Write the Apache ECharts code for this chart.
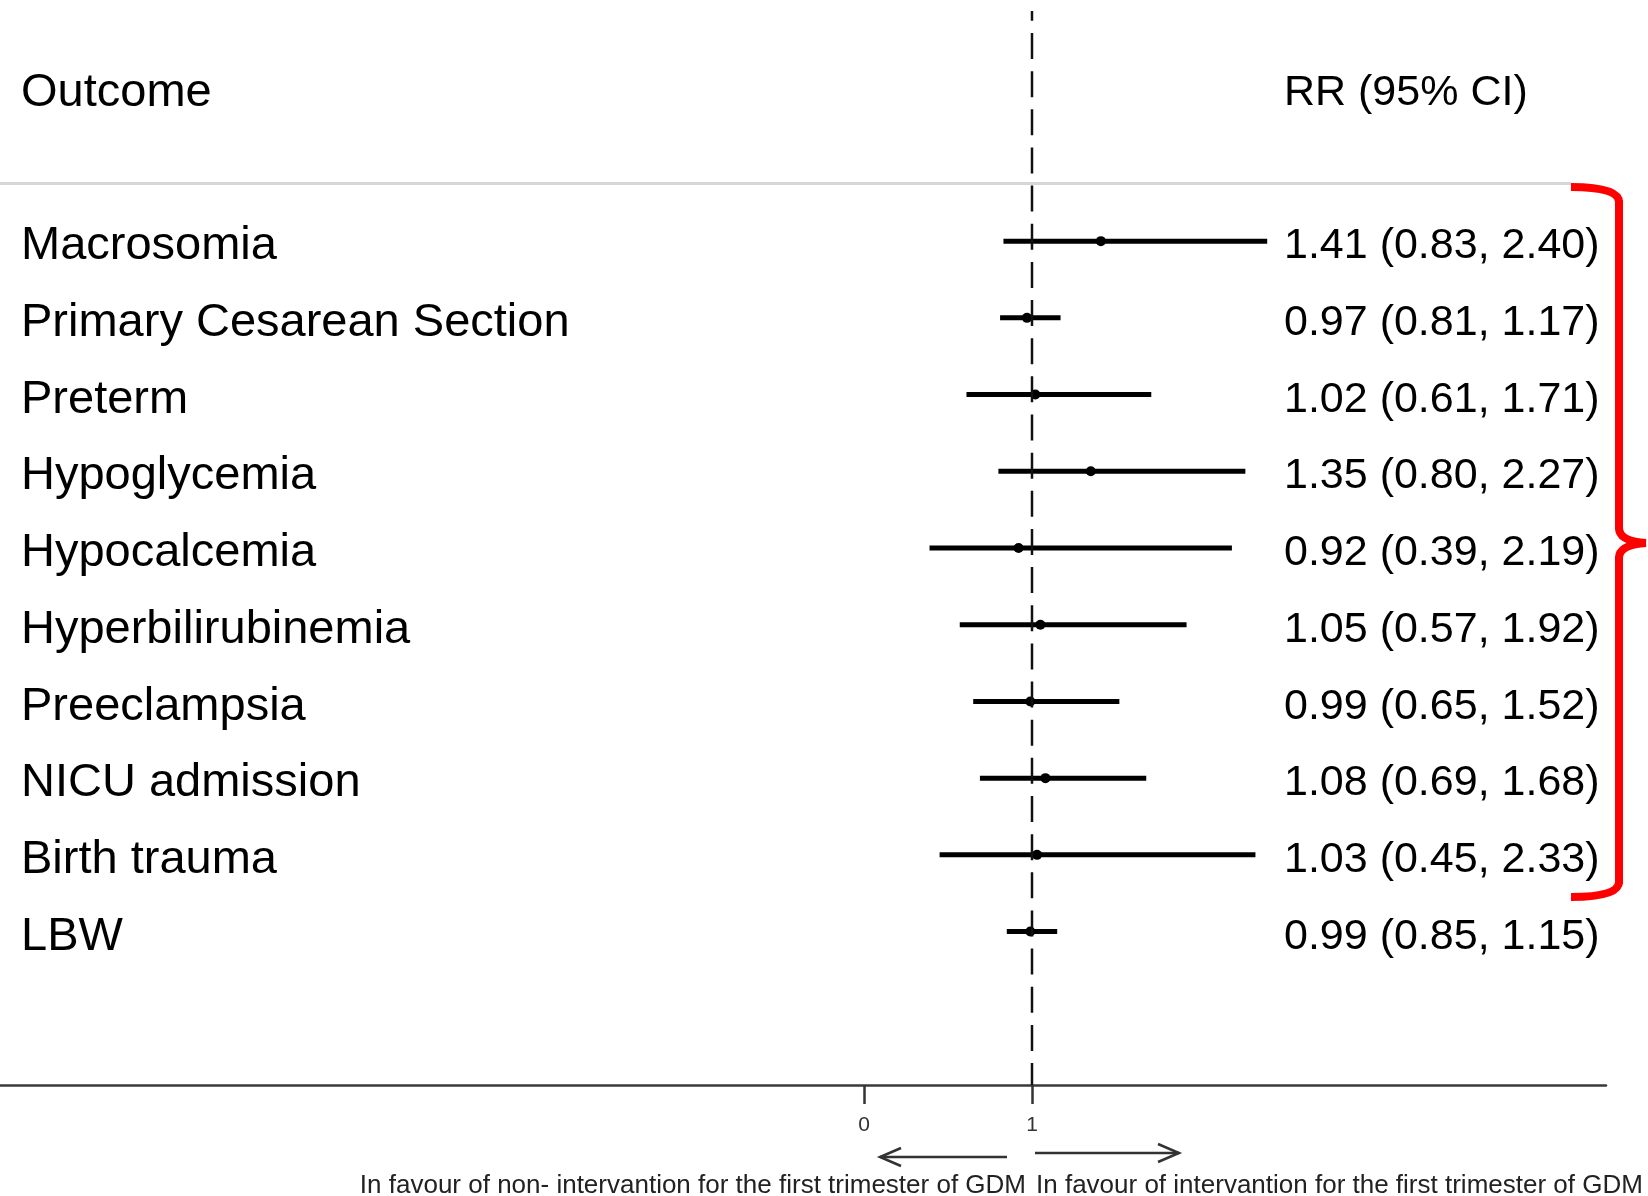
<!DOCTYPE html>
<html><head><meta charset="utf-8">
<script src="https://cdn.jsdelivr.net/npm/echarts@6/dist/echarts.min.js"></script>
<style>html,body{margin:0;padding:0;background:#fff}#c{width:1648px;height:1196px}</style>
</head><body><div id="c"></div>
<script>
const outcomes = ['Macrosomia','Primary Cesarean Section','Preterm','Hypoglycemia','Hypocalcemia','Hyperbilirubinemia','Preeclampsia','NICU admission','Birth trauma','LBW'];
const rr     = [1.41, 0.97, 1.02, 1.35, 0.92, 1.05, 0.99, 1.08, 1.03, 0.99];
const ciLow  = [0.83, 0.81, 0.61, 0.80, 0.39, 0.57, 0.65, 0.69, 0.45, 0.85];
const ciHigh = [2.40, 1.17, 1.71, 2.27, 2.19, 1.92, 1.52, 1.68, 2.33, 1.15];
const xTicks = [0, 1];
const refValue = 1;
const headerLeft = 'Outcome';
const headerRight = 'RR (95% CI)';
const noteLeft = 'In favour of non- intervantion for the first trimester of GDM';
const noteRight = 'In favour of intervantion for the first trimester of GDM';

const rrText = rr.map((v, i) => v.toFixed(2) + ' (' + ciLow[i].toFixed(2) + ', ' + ciHigh[i].toFixed(2) + ')');
const HEADER_ROW = -1.93;
const LABEL_SHIFT = 0.068;
const rowVals = [HEADER_ROW].concat(outcomes.map((_, i) => i + LABEL_SHIFT));
const FONT = '"Liberation Sans", Arial, Helvetica, sans-serif';

const chart = echarts.init(document.getElementById('c'), null, {renderer: 'canvas'});
const yBase = {
  type: 'value', min: -3, max: 11, inverse: true,
  axisLine: {show: false}, axisTick: {show: false}, splitLine: {show: false}
};
const option = {
  animation: false,
  backgroundColor: '#fff',
  grid: {left: 0, right: 42, top: 11, bottom: 111, containLabel: false},
  xAxis: {
    type: 'value', min: -5.1429, max: 4.4167,
    splitLine: {show: false},
    axisLine: {show: true, onZero: false, lineStyle: {color: '#3a3a3a', width: 2.5}},
    axisTick: {show: true, customValues: xTicks, length: 19, lineStyle: {color: '#333', width: 2.5}},
    axisLabel: {show: true, customValues: xTicks, fontSize: 21, color: '#333', margin: 30, fontFamily: FONT}
  },
  yAxis: [
    Object.assign({}, yBase, {
      position: 'left',
      axisLabel: {
        show: true, inside: true, margin: 21, align: 'left', customValues: rowVals,
        fontSize: 47, color: '#000', fontFamily: FONT,
        formatter: v => v < -0.5 ? headerLeft : outcomes[Math.round(v)]
      }
    }),
    Object.assign({}, yBase, {
      position: 'right',
      axisLabel: {
        show: true, inside: true, margin: 322, align: 'left', customValues: rowVals,
        fontSize: 43, color: '#000', fontFamily: FONT,
        formatter: v => v < -0.5 ? headerRight : rrText[Math.round(v)]
      }
    })
  ],
  series: [
    {
      type: 'line', xAxisIndex: 0, yAxisIndex: 0, symbol: 'none', silent: true,
      data: [[refValue, -3], [refValue, 11]],
      lineStyle: {color: '#111', width: 2.5, type: [26, 12.15], dashOffset: 16.15}
    },
    {
      type: 'custom', xAxisIndex: 0, yAxisIndex: 0,
      data: outcomes.map((_, i) => [i, ciLow[i], ciHigh[i], rr[i]]),
      encode: {x: [1, 2, 3], y: 0},
      renderItem: function (params, api) {
        const y = api.value(0);
        const p1 = api.coord([api.value(1), y]);
        const p2 = api.coord([api.value(2), y]);
        const pc = api.coord([api.value(3), y]);
        return {type: 'group', children: [
          {type: 'line', shape: {x1: p1[0], y1: p1[1], x2: p2[0], y2: p2[1]}, style: {stroke: '#000', lineWidth: 5}},
          {type: 'circle', shape: {cx: pc[0], cy: pc[1], r: 5}, style: {fill: '#000'}}
        ]};
      }
    }
  ]
};
chart.setOption(option);

const py = v => chart.convertToPixel({yAxisIndex: 0}, v);
const sepY = py(-0.75);
const arrowColor = '#333';
function arrow(xFrom, xTo, y) {
  const dir = xTo > xFrom ? -1 : 1;
  return [
    {type: 'line', shape: {x1: xFrom, y1: y, x2: xTo, y2: y}, style: {stroke: arrowColor, lineWidth: 2.5}},
    {type: 'polyline', shape: {points: [[xTo + dir * 21, y - 9], [xTo, y], [xTo + dir * 21, y + 9]]}, style: {stroke: arrowColor, lineWidth: 2.5, fill: null}}
  ];
}
const red = {stroke: '#ff0000', lineWidth: 8, fill: null};
const bracket = [
  {type: 'bezierCurve', shape: {x1: 1571, y1: 187, cpx1: 1619, cpy1: 187, x2: 1619, y2: 202}, style: red},
  {type: 'line', shape: {x1: 1619, y1: 200, x2: 1619, y2: 530}, style: red},
  {type: 'bezierCurve', shape: {x1: 1619, y1: 528, cpx1: 1619, cpy1: 541, x2: 1646, y2: 543}, style: red},
  {type: 'bezierCurve', shape: {x1: 1646, y1: 543, cpx1: 1619, cpy1: 545, x2: 1619, y2: 558}, style: red},
  {type: 'line', shape: {x1: 1619, y1: 556, x2: 1619, y2: 884}, style: red},
  {type: 'bezierCurve', shape: {x1: 1619, y1: 882, cpx1: 1619, cpy1: 897, x2: 1571, y2: 897}, style: red}
];
chart.setOption({
  graphic: [
    {type: 'line', shape: {x1: 0, y1: sepY, x2: 1571, y2: sepY}, style: {stroke: '#d6d6d6', lineWidth: 3}}
  ].concat(bracket)
   .concat(arrow(1007, 880, 1157))
   .concat(arrow(1035, 1179, 1153))
   .concat([
    {type: 'text', style: {text: noteLeft, x: 1026, y: 1186, align: 'right', verticalAlign: 'middle', fontSize: 26, fill: '#222', fontFamily: FONT}},
    {type: 'text', style: {text: noteRight, x: 1036, y: 1186, align: 'left', verticalAlign: 'middle', fontSize: 26, fill: '#222', fontFamily: FONT}}
  ])
});
</script></body></html>
